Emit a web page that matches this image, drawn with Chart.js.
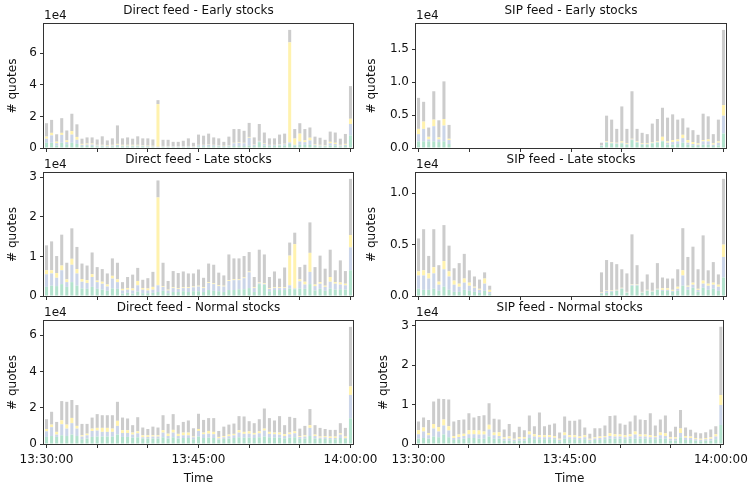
<!DOCTYPE html>
<html>
<head>
<meta charset="utf-8">
<script src="https://cdn.jsdelivr.net/npm/chart.js@4.4.1/dist/chart.umd.min.js"></script>
<style>
  body { margin: 0; background: #fff; }
  #wrap { position: relative; width: 753px; height: 486px; overflow: hidden; }
  canvas { position: absolute; }
</style>
</head>
<body>
<div id="wrap">
  <canvas id="c1" width="385" height="160" style="left:0;top:0"></canvas>
  <canvas id="c2" width="393" height="160" style="left:360px;top:0"></canvas>
  <canvas id="c3" width="385" height="159" style="left:0;top:149px"></canvas>
  <canvas id="c4" width="393" height="159" style="left:360px;top:149px"></canvas>
  <canvas id="c5" width="385" height="189" style="left:0;top:297px"></canvas>
  <canvas id="c6" width="393" height="189" style="left:360px;top:297px"></canvas>
</div>
<script>
// one bar every 30 s, 13:30:00 .. 14:00:00
const times = [];
for (let s = 0; s <= 1800; s += 30) {
    const m = 30 + Math.floor(s / 60);
    const hh = m >= 60 ? 14 : 13;
    const mm = String(m % 60).padStart(2, '0');
    const ss = String(s % 60).padStart(2, '0');
    times.push(hh + ':' + mm + ':' + ss);
}

// Stack levels, in units of 1e4 quotes:
// top of green, top of blue, top of yellow, top of the whole bar (grey)

// Direct feed - Early stocks
const deGreen = [.33,.33,.15,.33,.24,.33,.26,.12,.13,.13, .1,.1,.08,.1,.12,.1,.1,.1,.1,.1, .08,.06,.04,.06,.06,.06,.06,.06,.07,.05, .1,.1,.1,.1,.1,.08,.1,.12,.12,.12, .15,.12,.37,.15,.12,.12,.15,.15,.26,.15, .2,.2,.2,.12,.1,.1,.15,.15,.1,.12, .8];
const deBlue = [.59,.8,.3,.83,.37,.85,.52,.2,.22,.22, .16,.16,.12,.16,.2,.15,.15,.15,.15,.15, .12,.1,.08,.1,.1,.1,.1,.1,.11,.08, .18,.18,.2,.18,.16,.12,.16,.3,.32,.3, .65,.2,.42,.25,.18,.18,.22,.24,.35,.2, .41,.37,.48,.18,.16,.15,.3,.25,.16,.2, 1.52];
const deYellow = [.72,.96,.4,.96,.48,1.07,.7,.26,.28,.28, .2,.2,.16,.2,.26,.2,.2,.2,.2,.18, .15,.14,2.78,.13,.13,.12,.12,.12,.13,.1, .2,.2,.22,.2,.18,.14,.18,.33,.35,.33, .7,.22,.45,.28,.2,.2,.25,.27,6.69,.6, .91,.48,.65,.22,.2,.18,.39,.33,.2,.26, 1.85];
const deTotal = [1.57,1.78,.87,1.89,1.11,2.17,1.5,.59,.67,.67, .54,.74,.48,.61,1.43,.61,.67,.59,.74,.61, .61,.54,3.03,.52,.52,.39,.39,.46,.61,.33, .85,.78,.91,.67,.61,.39,.72,1.2,1.2,1.09, 1.59,.67,1.52,.98,.61,.61,.85,.91,7.48,1.2, 1.57,1.2,1.3,.72,.65,.52,1.04,.98,.59,.89, 3.92];

// SIP feed - Early stocks
const seGreen = [.1,.1,.1,.1,.09,.1,.06, 0,0,0,0,0,0,0,0,0,0,0,0,0,0,0,0,0,0,0,0,0,0,0,0,0,0,0,0,0, .03,.08,.07,.06,.07,.05,.12,.08,.05,.05,.07,.08,.1,.05,.05,.06,.08,.05,.04,.03,.05,.05,.03,.04,.22];
const seBlue = [.21,.29,.13,.33,.13,.34,.12, 0,0,0,0,0,0,0,0,0,0,0,0,0,0,0,0,0,0,0,0,0,0,0,0,0,0,0,0,0, .04,.09,.08,.07,.08,.06,.13,.09,.06,.06,.08,.09,.11,.08,.09,.1,.15,.08,.06,.05,.1,.1,.05,.08,.49];
const seYellow = [.29,.4,.17,.43,.16,.44,.14, 0,0,0,0,0,0,0,0,0,0,0,0,0,0,0,0,0,0,0,0,0,0,0,0,0,0,0,0,0, .045,.1,.09,.08,.1,.07,.14,.1,.07,.07,.09,.1,.17,.1,.12,.13,.2,.12,.09,.07,.12,.13,.07,.1,.65];
const seTotal = [.76,.7,.31,.86,.42,1.01,.35, 0,0,0,0,0,0,0,0,0,0,0,0,0,0,0,0,0,0,0,0,0,0,0,0,0,0,0,0,0, .08,.49,.43,.29,.63,.29,.86,.29,.23,.21,.37,.44,.61,.46,.51,.43,.45,.31,.27,.2,.52,.48,.21,.43,1.79];

// Direct feed - Late stocks
const dlGreen = [.23,.26,.25,.3,.23,.35,.26,.19,.18,.23, .18,.16,.13,.19,.18,.06,.08,.06,.11,.07, .07,.08,.1,.13,.07,.1,.1,.12,.1,.12, .12,.1,.15,.13,.12,.1,.15,.15,.17,.17, .2,.1,.3,.28,.12,.15,.15,.15,.19,.17, .19,.18,.3,.14,.18,.13,.19,.16,.17,.16, .65];
const dlBlue = [.55,.57,.46,.65,.35,.79,.57,.36,.33,.48, .35,.31,.24,.44,.35,.14,.16,.14,.27,.16, .14,.16,.27,.23,.14,.2,.18,.2,.2,.22, .24,.2,.33,.3,.25,.24,.38,.4,.4,.45, .6,.2,.32,.3,.18,.2,.2,.2,.27,.19, .37,.29,.61,.25,.31,.23,.36,.31,.29,.27, 1.23];
const dlYellow = [.65,.65,.58,.77,.42,.94,.68,.43,.4,.55, .39,.36,.29,.51,.42,.18,.2,.19,.38,.2, .19,.23,2.49,.25,.16,.22,.2,.22,.22,.24, .26,.22,.35,.32,.27,.26,.4,.42,.42,.47, .62,.22,.34,.32,.2,.22,.22,.22,1.02,1.31, .42,.36,1.09,.29,.35,.26,.48,.35,.34,.31, 1.54];
const dlTotal = [1.28,1.38,1.01,1.55,.84,1.71,1.24,.82,.77,1.1, .73,.68,.57,.95,.84,.35,.48,.54,.71,.41, .45,.61,2.92,.84,.38,.63,.58,.62,.57,.57, .67,.46,.82,.79,.59,.52,1.05,.95,.95,1.01, 1.11,.48,1.17,1.05,.48,.62,.44,.72,1.35,1.6, .73,.79,1.86,.73,1.02,.69,1.17,.65,.9,.63, 2.96];

// SIP feed - Late stocks
const slGreen = [.07,.06,.06,.07,.05,.09,.06,.04,.04,.06,.05,.04,.03,.05,.02, 0,0,0,0,0,0,0,0,0,0,0,0,0,0,0,0,0,0,0,0,0, .02,.03,.04,.05,.07,.03,.1,.1,.03,.05,.04,.06,.05,.05,.04,.05,.1,.06,.08,.04,.08,.06,.07,.05,.18];
const slBlue = [.2,.2,.17,.22,.11,.26,.19,.11,.09,.13,.1,.08,.06,.12,.04, 0,0,0,0,0,0,0,0,0,0,0,0,0,0,0,0,0,0,0,0,0, .03,.05,.05,.055,.075,.035,.11,.11,.035,.055,.045,.065,.06,.06,.05,.07,.2,.09,.11,.06,.12,.1,.11,.09,.38];
const slYellow = [.24,.25,.22,.28,.14,.34,.24,.15,.12,.17,.13,.09,.07,.17,.06, 0,0,0,0,0,0,0,0,0,0,0,0,0,0,0,0,0,0,0,0,0, .035,.055,.055,.06,.08,.04,.115,.115,.04,.06,.05,.07,.075,.075,.06,.09,.25,.1,.13,.07,.15,.12,.13,.11,.5];
const slTotal = [.56,.65,.39,.65,.3,.69,.49,.27,.32,.41,.25,.19,.16,.23,.1, 0,0,0,0,0,0,0,0,0,0,0,0,0,0,0,0,0,0,0,0,0, .23,.35,.33,.31,.26,.22,.6,.3,.14,.21,.13,.32,.18,.17,.17,.26,.66,.38,.48,.26,.59,.25,.33,.21,1.14];

// Direct feed - Normal stocks
const dnGreen = [.39,.44,.39,.48,.44,.52,.44,.26,.3,.39, .41,.41,.41,.41,.52,.39,.39,.35,.37,.3, .3,.3,.3,.37,.3,.37,.3,.33,.33,.26, .41,.33,.35,.33,.24,.28,.3,.33,.37,.35, .35,.33,.37,.41,.37,.35,.35,.31,.35,.37, .28,.3,.44,.3,.28,.28,.26,.26,.33,.28, 1.42];
const dnBlue = [.7,.93,.52,1.09,.85,1.15,.85,.41,.48,.72, .74,.67,.67,.67,1.0,.61,.61,.52,.59,.37, .39,.41,.41,.63,.44,.63,.44,.48,.48,.37, .72,.54,.57,.54,.31,.37,.43,.48,.63,.56, .57,.52,.59,.74,.56,.54,.52,.44,.54,.59, .39,.41,.89,.44,.35,.37,.33,.33,.52,.33, 2.71];
const dnYellow = [.83,1.07,.67,1.31,1.07,1.44,1.0,.48,.57,.85, .89,.89,.89,.85,1.28,.76,.76,.63,.7,.48, .48,.48,.48,.76,.57,.78,.56,.63,.63,.41, .83,.63,.72,.67,.39,.44,.52,.56,.76,.67, .7,.61,.7,.85,.67,.63,.63,.54,.63,.7, .44,.48,1.04,.52,.41,.44,.41,.41,.59,.41, 3.18];
const dnTotal = [1.37,1.78,1.22,2.37,2.33,2.43,2.15,1.11,1.11,1.46, 1.65,1.59,1.59,1.59,2.33,1.46,1.41,1.04,1.48,.91, .83,.96,.91,1.59,1.11,1.65,1.04,1.22,1.3,.87, 1.67,1.33,1.43,1.43,.72,.96,1.07,1.13,1.54,1.52, 1.26,1.15,1.37,1.96,1.43,1.3,1.54,1.04,1.5,1.44, .85,1.0,1.93,1.04,.89,.83,.78,.78,1.15,.89, 6.47];

// SIP feed - Normal stocks
const snGreen = [.13,.15,.13,.19,.17,.24,.17,.1,.12,.13, .15,.15,.13,.13,.19,.13,.13,.08,.08,.07, .08,.08,.15,.12,.12,.12,.12,.12,.07,.13, .12,.12,.1,.12,.07,.1,.1,.12,.13,.13, .13,.12,.13,.13,.13,.13,.12,.12,.13,.13, .08,.08,.17,.1,.1,.08,.07,.08,.08,.12, .48];
const snBlue = [.25,.32,.22,.39,.32,.47,.34,.15,.18,.2, .25,.25,.24,.24,.37,.22,.2,.13,.14,.11, .13,.13,.24,.19,.17,.17,.17,.16,.11,.22, .17,.17,.15,.17,.11,.14,.15,.17,.2,.19, .19,.17,.19,.24,.19,.19,.17,.17,.22,.2, .13,.13,.28,.16,.15,.12,.11,.12,.13,.19, .99];
const snYellow = [.35,.42,.28,.51,.43,.62,.45,.2,.24,.26, .35,.35,.34,.32,.49,.29,.3,.17,.19,.13, .18,.18,.32,.25,.22,.22,.22,.2,.13,.29, .22,.22,.19,.22,.13,.17,.19,.2,.27,.25, .24,.22,.25,.32,.24,.24,.22,.2,.29,.27, .17,.17,.39,.2,.19,.15,.13,.15,.17,.25, 1.24];
const snTotal = [.57,.67,.61,1.08,1.15,1.14,1.13,.57,.61,.62, .78,.67,.71,.73,1.03,.64,.62,.37,.51,.3, .44,.35,.72,.45,.8,.45,.49,.52,.29,.7, .59,.59,.62,.42,.26,.4,.4,.47,.71,.72, .52,.49,.57,.72,.62,.61,.78,.47,.62,.72, .32,.44,.86,.42,.36,.29,.27,.3,.37,.45, 2.97];

const colors = ['#b3e2cd', '#cbd5e8', '#fff2ae', '#cccccc'];
const font = { family: 'DejaVu Sans', size: 12 };
const textColor = '#111';

// frame, title and the "1e4" offset text, like matplotlib axes
const panelDecor = {
    id: 'panelDecor',
    afterDraw(chart, args, opts) {
        const ctx = chart.ctx;
        const a = chart.chartArea;
        ctx.save();
        ctx.strokeStyle = '#333';
        ctx.lineWidth = 1;
        ctx.strokeRect(Math.round(a.left) - 0.5, Math.round(a.top) - 0.5,
            Math.round(a.right - a.left) + 1, Math.round(a.bottom - a.top) + 1);
        ctx.fillStyle = textColor;
        ctx.font = '12px "DejaVu Sans"';
        ctx.textBaseline = 'middle';
        ctx.textAlign = 'center';
        ctx.fillText(opts.title, (a.left + a.right) / 2, a.top - 13);
        ctx.textAlign = 'left';
        ctx.fillText('1e4', a.left, a.top - 8);
        ctx.restore();
    }
};

// turn stack levels into the four segment heights
function segments(levels) {
    const out = [];
    for (let k = 0; k < levels.length; k++) {
        const below = k === 0 ? null : levels[k - 1];
        out.push(levels[k].map((v, i) => Math.max(0, +(v - (below ? below[i] : 0)).toFixed(3))));
    }
    return out;
}

function makePanel(id, title, levels, step, decimals, left, bottomRow, labelPad) {
    const segs = segments(levels);
    const total = levels[levels.length - 1];
    const yMax = Math.max(...total) * 1.05;
    const isLeft = left;
    new Chart(document.getElementById(id), {
        type: 'bar',
        data: {
            labels: times,
            datasets: segs.map((d, k) => ({
                data: d,
                backgroundColor: colors[k],
                borderWidth: 0,
                barPercentage: 0.6,
                categoryPercentage: 1.0,
            })),
        },
        options: {
            responsive: false,
            animation: false,
            devicePixelRatio: 1,
            layout: { padding: { top: 24, left: 0, bottom: 0, right: isLeft ? 32 : 27 } },
            plugins: {
                legend: { display: false },
                tooltip: { enabled: false },
                panelDecor: { title: title },
            },
            scales: {
                x: {
                    stacked: true,
                    offset: true,
                    afterFit: s => { s.height = bottomRow ? 42 : 12; },
                    border: { display: false },
                    grid: {
                        drawOnChartArea: false,
                        offset: false,
                        tickLength: 4,
                        tickColor: c => (c.index % 10 === 0 ? '#333' : 'rgba(0,0,0,0)'),
                    },
                    ticks: {
                        autoSkip: false,
                        maxRotation: 0,
                        minRotation: 0,
                        padding: 5,
                        color: textColor,
                        font: font,
                        callback: (v, i) => (bottomRow && i % 30 === 0 ? times[i] : ''),
                    },
                    title: { display: bottomRow, text: 'Time', color: textColor, font: font, padding: 0 },
                },
                y: {
                    stacked: true,
                    min: 0,
                    max: yMax,
                    afterFit: s => { s.width = isLeft ? 44 : 56; },
                    border: { display: false },
                    grid: { drawOnChartArea: false, tickLength: 4, color: '#333' },
                    ticks: {
                        stepSize: step,
                        includeBounds: false,
                        padding: 3,
                        color: textColor,
                        font: font,
                        callback: v => (decimals ? v.toFixed(1) : String(v)),
                    },
                    title: {
                        display: true,
                        text: '# quotes',
                        color: textColor,
                        font: font,
                        padding: { top: labelPad, bottom: 0 },
                    },
                },
            },
        },
        plugins: [panelDecor],
    });
}

makePanel('c1', 'Direct feed - Early stocks', [deGreen, deBlue, deYellow, deTotal], 2, false, true, false, 6);
makePanel('c2', 'SIP feed - Early stocks', [seGreen, seBlue, seYellow, seTotal], 0.5, true, false, false, 5);
makePanel('c3', 'Direct feed - Late stocks', [dlGreen, dlBlue, dlYellow, dlTotal], 1, false, true, false, 6);
makePanel('c4', 'SIP feed - Late stocks', [slGreen, slBlue, slYellow, slTotal], 0.5, true, false, false, 5);
makePanel('c5', 'Direct feed - Normal stocks', [dnGreen, dnBlue, dnYellow, dnTotal], 2, false, true, true, 6);
makePanel('c6', 'SIP feed - Normal stocks', [snGreen, snBlue, snYellow, snTotal], 1, false, false, true, 17);
</script>
</body>
</html>
